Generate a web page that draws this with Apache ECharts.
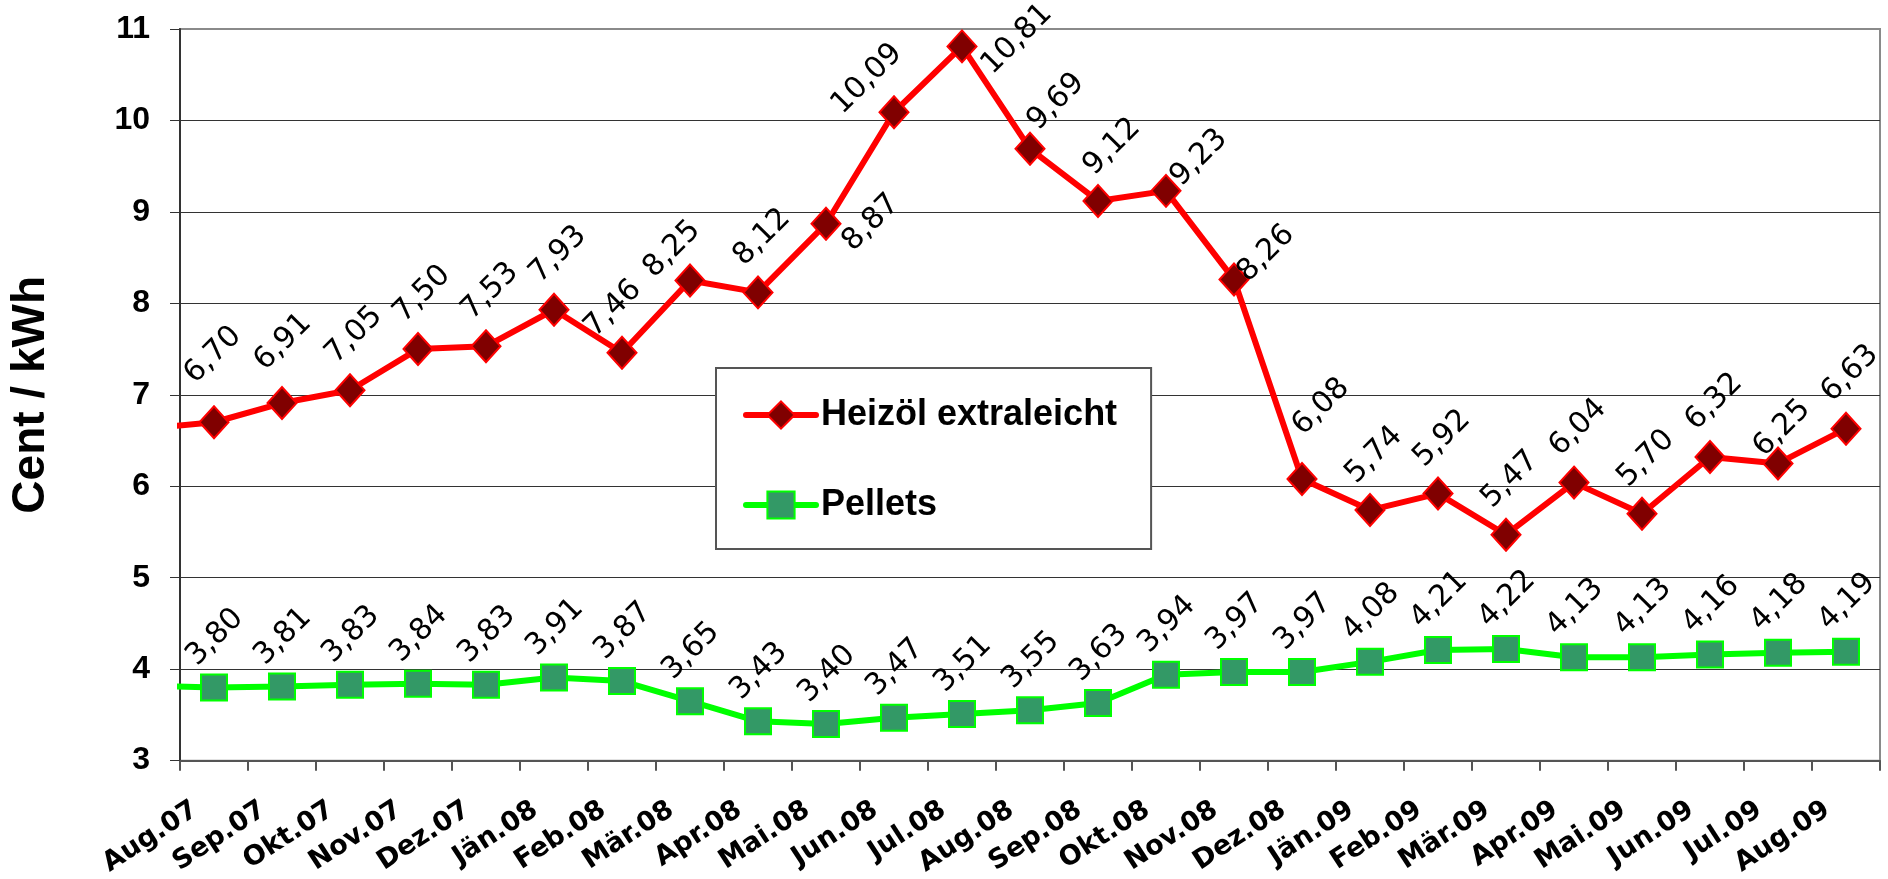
<!DOCTYPE html>
<html>
<head>
<meta charset="utf-8">
<title>Heizöl / Pellets</title>
<script src="https://cdn.jsdelivr.net/npm/echarts@6/dist/echarts.min.js"></script>
<style>
  html, body { margin: 0; padding: 0; background: #fff; }
  #main { width: 1888px; height: 879px; }
</style>
</head>
<body>
<div id="main"></div>
<script>
// Monate (Jul.07 liegt links außerhalb der Achse, nur der Linienansatz ist sichtbar)
var months = ['Jul.07', 'Aug.07', 'Sep.07', 'Okt.07', 'Nov.07', 'Dez.07', 'Jän.08', 'Feb.08', 'Mär.08',
  'Apr.08', 'Mai.08', 'Jun.08', 'Jul.08', 'Aug.08', 'Sep.08', 'Okt.08', 'Nov.08', 'Dez.08',
  'Jän.09', 'Feb.09', 'Mär.09', 'Apr.09', 'Mai.09', 'Jun.09', 'Jul.09', 'Aug.09'];

var heizoel = [6.63, 6.70, 6.91, 7.05, 7.50, 7.53, 7.93, 7.46, 8.25, 8.12, 8.87, 10.09, 10.81, 9.69,
  9.12, 9.23, 8.26, 6.08, 5.74, 5.92, 5.47, 6.04, 5.70, 6.32, 6.25, 6.63];

var pellets = [3.82, 3.80, 3.81, 3.83, 3.84, 3.83, 3.91, 3.87, 3.65, 3.43, 3.40, 3.47, 3.51, 3.55,
  3.63, 3.94, 3.97, 3.97, 4.08, 4.21, 4.22, 4.13, 4.13, 4.16, 4.18, 4.19];

var yTicks = { min: 3, max: 11, step: 1 };

// Lage der Wertebeschriftung (Mitte der Beschriftung relativ zum Punkt, px)
var redLabelDefault = [5, -54];
var greenLabelDefault = [2, -49];
var redLabelMoved = {
  'Aug.07': [0, -66], 'Sep.07': [2, -60],
  'Feb.08': [-8, -43], 'Mär.08': [-17, -30], 'Mai.08': [46, 0], 'Jun.08': [-26, -32],
  'Jul.08': [56, -6], 'Aug.08': [27, -46], 'Sep.08': [15, -53], 'Okt.08': [34, -32],
  'Nov.08': [33, -25], 'Dez.08': [20, -71], 'Jul.09': [5, -34]
};

var diamondSize = [29, 32];
var squareSize = [26, 26];

function fmt(p) {
  return p.value.toFixed(2).replace('.', ',');
}

function labelPos(size, d) {
  return [size[0] / 2 + d[0], size[1] / 2 + d[1]];
}

var labelText = {
  show: true, rotate: 45,
  align: 'center', verticalAlign: 'middle',
  fontFamily: 'DejaVu Sans', fontSize: 30, color: '#000',
  formatter: fmt
};

var myChart = echarts.init(document.getElementById('main'));

myChart.setOption({
  animation: false,
  grid: {
    left: 180, right: 8, top: 29, bottom: 117,
    show: true, borderColor: '#8a8a8a', borderWidth: 2, backgroundColor: 'transparent'
  },
  legend: {
    orient: 'vertical',
    left: 716, top: 368,
    padding: [27, 34, 24, 27],
    backgroundColor: '#fff',
    borderColor: '#555', borderWidth: 2,
    itemWidth: 70, itemHeight: 34, itemGap: 50,
    lineStyle: { width: 6, cap: 'round' },
    textStyle: { fontFamily: 'Liberation Sans', fontWeight: 'bold', fontSize: 36, color: '#000', lineHeight: 40 },
    data: ['Heizöl extraleicht', 'Pellets']
  },
  xAxis: {
    type: 'category',
    data: months,
    min: 1,
    boundaryGap: true,
    axisLine: { lineStyle: { color: '#555', width: 2 } },
    axisTick: { show: true, length: 10, lineStyle: { color: '#555', width: 2 } },
    axisLabel: {
      interval: 0, rotate: 33, margin: 35, padding: [0, 22, 0, 0],
      fontFamily: 'DejaVu Sans', fontWeight: 'bold', fontSize: 27, color: '#000'
    },
    splitLine: { show: false }
  },
  yAxis: {
    type: 'value',
    min: yTicks.min, max: yTicks.max, interval: yTicks.step,
    name: 'Cent / kWh',
    nameLocation: 'middle',
    nameGap: 126,
    nameTextStyle: { fontFamily: 'Liberation Sans', fontWeight: 'bold', fontSize: 46, color: '#000' },
    axisLine: { show: true, lineStyle: { color: '#333', width: 2 } },
    axisTick: { show: true, length: 10, lineStyle: { color: '#333', width: 1 } },
    axisLabel: { margin: 30, fontFamily: 'Liberation Sans', fontWeight: 'bold', fontSize: 32, color: '#000' },
    splitLine: { show: true, showMaxLine: false, lineStyle: { color: '#333', width: 1 } }
  },
  series: [
    {
      name: 'Heizöl extraleicht',
      type: 'line',
      clip: true,
      data: heizoel.map(function (v, i) {
        var d = redLabelMoved[months[i]] || redLabelDefault;
        return { value: v, label: { position: labelPos(diamondSize, d) } };
      }),
      lineStyle: { color: '#ff0000', width: 6 },
      symbol: 'diamond',
      symbolSize: diamondSize,
      itemStyle: { color: '#800000', borderColor: '#ff0000', borderWidth: 2 },
      label: labelText,
      z: 3
    },
    {
      name: 'Pellets',
      type: 'line',
      clip: true,
      data: pellets.map(function (v) {
        return { value: v, label: { position: labelPos(squareSize, greenLabelDefault) } };
      }),
      lineStyle: { color: '#00ff00', width: 6 },
      symbol: 'rect',
      symbolSize: squareSize,
      itemStyle: { color: '#339966', borderColor: '#00ff00', borderWidth: 2 },
      label: labelText,
      z: 2
    }
  ]
});
</script>
</body>
</html>
